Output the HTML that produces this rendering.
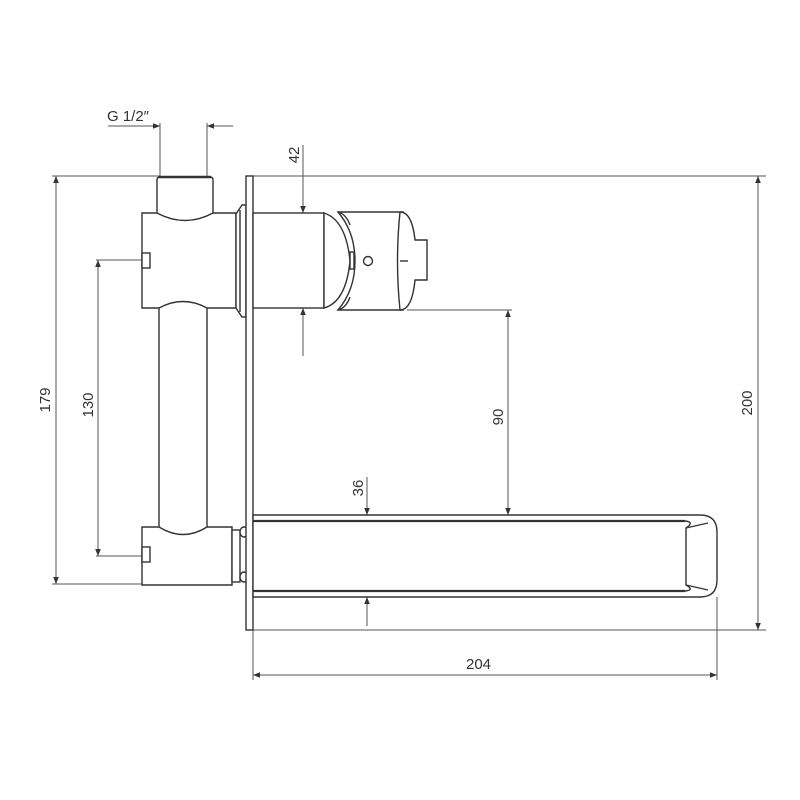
<!DOCTYPE html>
<html><head><meta charset="utf-8"><style>
html,body{margin:0;padding:0;background:#fff;}
svg{display:block}
text{font-family:"Liberation Sans",sans-serif;font-size:15px;fill:#333;}
</style></head><body>
<svg width="800" height="800" viewBox="0 0 800 800" xmlns="http://www.w3.org/2000/svg">
<defs>
<marker id="a" viewBox="0 0 10 10" refX="10" refY="5" markerWidth="16" markerHeight="7" markerUnits="userSpaceOnUse" orient="auto-start-reverse"><path d="M0,1 L10,5 L0,9 z" fill="#333"/></marker>
</defs>
<g stroke="#555" stroke-width="1" fill="none">
<line x1="52" y1="176" x2="160" y2="176"/>
<line x1="253" y1="176" x2="766" y2="176"/>
<line x1="253" y1="630" x2="766" y2="630"/>
<line x1="52" y1="584" x2="142" y2="584"/>
<line x1="96" y1="260" x2="145" y2="260"/>
<line x1="96" y1="556" x2="145" y2="556"/>
<line x1="407" y1="310" x2="512" y2="310"/>
<line x1="160" y1="123" x2="160" y2="176"/>
<line x1="207" y1="123" x2="207" y2="176"/>
<line x1="253" y1="630" x2="253" y2="680"/>
<line x1="717" y1="597" x2="717" y2="680"/>
<line x1="56" y1="176" x2="56" y2="584" marker-start="url(#a)" marker-end="url(#a)"/>
<line x1="98" y1="260" x2="98" y2="556" marker-start="url(#a)" marker-end="url(#a)"/>
<line x1="758" y1="176" x2="758" y2="630" marker-start="url(#a)" marker-end="url(#a)"/>
<line x1="508" y1="310" x2="508" y2="515" marker-start="url(#a)" marker-end="url(#a)"/>
<line x1="253" y1="675" x2="717" y2="675" marker-start="url(#a)" marker-end="url(#a)"/>
<line x1="303" y1="145" x2="303" y2="213" marker-end="url(#a)"/>
<line x1="303" y1="356" x2="303" y2="308" marker-end="url(#a)"/>
<line x1="367" y1="477" x2="367" y2="515" marker-end="url(#a)"/>
<line x1="367" y1="626" x2="367" y2="597" marker-end="url(#a)"/>
<line x1="303" y1="213" x2="303" y2="308"/>
<line x1="367" y1="515" x2="367" y2="597"/>
<line x1="108" y1="126" x2="160" y2="126" marker-end="url(#a)"/>
<line x1="233" y1="126" x2="207" y2="126" marker-end="url(#a)"/>
</g>
<g stroke="#333" stroke-width="1.4" fill="#fff">
<path d="M157,213 L157,180 Q157,177 160,177 L210,177 Q213,177 213,180 L213,213"/>
<line x1="159" y1="177" x2="211" y2="177" stroke-width="2.5"/>
<rect x="159" y="300" width="48" height="235"/>
<path d="M142,213 L157,213 Q185,228 213,213 L236,213 L236,308 L207,308 Q183,295 159,308 L142,308 Z"/>
<rect x="142" y="253" width="8" height="15"/>
<path d="M142,527 L159,527 Q183,542 207,527 L232,527 L232,585 L142,585 Z"/>
<rect x="142" y="547" width="8" height="15"/>
<rect x="232" y="530" width="8" height="52"/>
<ellipse cx="244" cy="532" rx="4" ry="5"/>
<ellipse cx="244" cy="577" rx="4" ry="5"/>
<path d="M236,214 L242,205 L246,205 L246,317 L242,317 L236,308 Z"/>
<line x1="240" y1="210" x2="240" y2="312"/>
<rect x="246" y="176" width="7" height="454"/>
<rect x="253" y="213" width="71" height="95"/>
<path d="M324,213 Q346,220 350,261 Q346,302 324,308 Z"/>
<path d="M338,212 L403,212 L403,310 L338,310 Q355,290 355,261 Q355,232 338,212 Z"/>
<path d="M338,212 Q346,214 350,225 M338,310 Q346,308 350,297" fill="none"/>
<rect x="350" y="252" width="4" height="17" fill="none"/>
<path d="M400,212 Q412,212 415,240 L427,240 L427,280 L415,280 Q412,310 400,310 Q395,261 400,212 Z"/>
<line x1="400" y1="261" x2="408" y2="261"/>
<circle cx="368" cy="261" r="4.5"/>
<path d="M253,515 L700,515 Q717,515 717,532 L717,580 Q717,597 700,597 L253,597 Z"/>
<line x1="253" y1="521" x2="685" y2="521" stroke-width="2.2"/>
<line x1="253" y1="591" x2="685" y2="591" stroke-width="2.2"/>
<path d="M685,521 Q695,522 686,528 L686,585 Q695,590 685,591" fill="none"/>
<line x1="686" y1="528" x2="708" y2="523" fill="none"/>
<line x1="686" y1="585" x2="708" y2="590" fill="none"/>
</g>
<text x="107" y="121">G 1/2″</text>
<text x="466" y="669">204</text>
<text transform="translate(50,400) rotate(-90)" text-anchor="middle">179</text>
<text transform="translate(93,405) rotate(-90)" text-anchor="middle">130</text>
<text transform="translate(299,155) rotate(-90)" text-anchor="middle">42</text>
<text transform="translate(503,417) rotate(-90)" text-anchor="middle">90</text>
<text transform="translate(363,488) rotate(-90)" text-anchor="middle">36</text>
<text transform="translate(752,403) rotate(-90)" text-anchor="middle">200</text>
</svg>
</body></html>
